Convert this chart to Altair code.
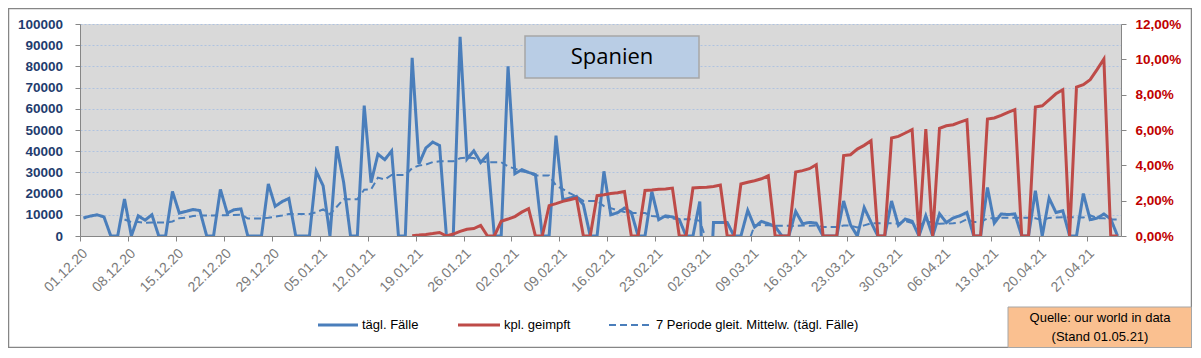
import altair as alt
import pandas as pd

# ---------------- data ----------------
START = "2020-12-01"
N_DAYS = 152

# daily new cases Spain (01.12.20 ... 01.05.21)
CASES = [8500, 9400, 10000, 9000, 0, 0, 17500, 0, 9500, 7500,
         10000, 0, 0, 21000, 10800, 11600, 12500, 12000, 0, 0,
         22000, 10800, 12400, 12800, 0, 0, 0, 24600, 14000, 16200,
         17700, 0, 0, 0, 30500, 23700, 0, 42300, 25200, 0,
         0, 61500, 25200, 38600, 36000, 40100, 0, 0, 84000, 34000,
         41500, 44300, 42700, 0, 0, 94000, 36300, 40200, 34700, 38300,
         0, 0, 80000, 29400, 31300, 30000, 29000, 0, 0, 47300,
         17100, 17900, 18700, 14800, 0, 0, 30500, 10000, 11000, 13200,
         11100, 0, 0, 21000, 7700, 9500, 9000, 7800, 0, 0,
         16300, -60000, 6400, 6400, 6400, 0, 0, 12100, 4200, 6900,
         5800, 4500, 0, 0, 11600, 5800, 6400, 6100, 0, 0,
         0, 16500, 5300, 0, 13400, 6500, 0, 0, 16500, 5000,
         8000, 7000, 0, 9600, 0, 10500, 6300, 8500, 9600, 11100,
         0, 0, 22900, 6100, 10400, 10100, 10400, 0, 0, 21400,
         0, 17900, 11100, 11900, 0, 0, 20000, 7700, 8400, 10400,
         8000, 0]

# fully vaccinated, percent of population
VACC = [None] * 48 + [
         0.02, 0.05, 0.09, 0.14, 0.20, 0, 0.11, 0.26, 0.38, 0.42,
         0.60, 0, 0, 0.83, 0.96, 1.10, 1.35, 1.55, 0, 0,
         1.72, 1.83, 1.96, 2.05, 2.15, 0, 0, 2.28, 2.33, 2.40,
         2.45, 2.52, 0, 0, 2.58, 2.60, 2.64, 2.66, 2.71, 0,
         0, 2.72, 2.74, 2.76, 2.80, 2.88, 0, 0, 2.94, 3.04,
         3.13, 3.24, 3.41, 0, 0, 0, 3.62, 3.70, 3.81, 4.03,
         0, 0, 0, 4.55, 4.60, 4.92, 5.13, 5.39, 0, 0,
         5.55, 5.64, 5.83, 6.02, 0, 6.05, 0, 6.10, 6.24, 6.30,
         6.45, 6.58, 0, 0, 6.62, 6.68, 6.83, 7.00, 7.15, 0,
         0, 7.30, 7.37, 7.71, 8.05, 8.28, 0, 8.43, 8.56, 8.85,
         9.42, 10.02, 0, 0]

LEFT_TICKS = [0, 10000, 20000, 30000, 40000, 50000, 60000, 70000, 80000, 90000, 100000]
RIGHT_TICKS = [0, 2, 4, 6, 8, 10, 12]
SERIES = ["tägl. Fälle", "kpl. geimpft", "7 Periode gleit. Mittelw. (tägl. Fälle)"]
TITLE = ["Spanien"]
SOURCE = ["Quelle: our world in data", "(Stand 01.05.21)"]

# ---------------- styling ----------------
BLUE = "#4A7EBB"
RED = "#BE4B48"
FONT = "Liberation Sans"
W, H = 1041, 212

dates = pd.date_range(START, periods=N_DAYS, freq="D")
df = pd.DataFrame({
    "datum": [d.strftime("%Y-%m-%dT12:00:00") for d in dates],
    "faelle": CASES,
    "geimpft": VACC,
})
tick_dates = [alt.DateTime(year=d.year, month=d.month, date=d.day) for d in dates[::7]]

x_enc = alt.X(
    "datum:T",
    title=None,
    scale=alt.Scale(domain=[alt.DateTime(year=2020, month=12, date=1),
                            alt.DateTime(year=2021, month=5, date=2)], nice=False),
    axis=alt.Axis(values=tick_dates, format="%d.%m.%y", labelAngle=-45,
                  labelAlign="right", labelBaseline="top", labelOffset=0, labelPadding=5,
                  labelColor="#7A7A7A", labelFontSize=14, labelFont=FONT,
                  domainColor="#868686", tickColor="#868686", tickSize=5,
                  grid=False, labelOverlap=False),
)

left = alt.Chart(df).transform_window(
    ma="mean(faelle)", idx="row_number()", frame=[-6, 0],
    sort=[alt.SortField("datum")],
).transform_calculate(
    ma="datum.idx >= 7 ? datum.ma : null"
).transform_fold(
    ["faelle", "ma"], as_=["serie", "wert"]
).transform_filter("isValid(datum.wert)").mark_line(color=BLUE, clip=True).encode(
    x=x_enc,
    y=alt.Y("wert:Q", title=None, scale=alt.Scale(domain=[0, 100000], nice=False),
            axis=alt.Axis(values=LEFT_TICKS, format="d", labelFont=FONT,
                          labelFontSize=13.5, labelFontWeight="bold", labelColor="#1F3C6E",
                          domainColor="#868686", tickColor="#868686", tickSize=5,
                          labelPadding=12.5, grid=True, gridColor="#AFC3E0",
                          gridDash=[2, 2], gridWidth=1)),
    detail="serie:N",
    strokeDash=alt.StrokeDash("serie:N", legend=None,
                              scale=alt.Scale(domain=["faelle", "ma"], range=[[1, 0], [7, 4]])),
    strokeWidth=alt.StrokeWidth("serie:N", legend=None,
                                scale=alt.Scale(domain=["faelle", "ma"], range=[3, 2])),
)

red = alt.Chart(df).transform_filter("isValid(datum.geimpft)").mark_line(
    color=RED, strokeWidth=3, clip=True
).encode(
    x=x_enc,
    y=alt.Y("geimpft:Q", title=None, scale=alt.Scale(domain=[0, 12], nice=False),
            axis=alt.Axis(orient="right", values=RIGHT_TICKS,
                          labelExpr="replace(format(datum.value, '.2f'), '.', ',') + '%'",
                          labelFont=FONT, labelFontSize=13.5, labelFontWeight="bold",
                          labelColor="#C00000", domainColor="#868686", tickColor="#868686",
                          tickSize=5, labelPadding=9, grid=False)),
)

main = alt.layer(left, red).resolve_scale(y="independent")

# ---------------- decorations ----------------
one = pd.DataFrame({"t": [""]})

border = alt.Chart(one).mark_rect(fill="transparent", stroke="#868686", strokeWidth=1.5).encode(
    x=alt.value(-71.5), x2=alt.value(1111.5), y=alt.value(-15.5), y2=alt.value(323.5))

title_box = alt.Chart(one).mark_rect(fill="#B9CDE5", stroke="#A6A6A6", strokeWidth=1.5).encode(
    x=alt.value(445), x2=alt.value(619), y=alt.value(12), y2=alt.value(54))
title_text = alt.Chart(pd.DataFrame({"t": TITLE})).mark_text(
    font="Open Sans", fontSize=22, color="#000000", align="center", baseline="middle"
).encode(x=alt.value(532), y=alt.value(33), text="t:N")

src_box = alt.Chart(one).mark_rect(fill="#FAC090", stroke="#A6A6A6", strokeWidth=1).encode(
    x=alt.value(928), x2=alt.value(1111.5), y=alt.value(283), y2=alt.value(323.5))
src_text1 = alt.Chart(pd.DataFrame({"t": [SOURCE[0]]})).mark_text(
    font=FONT, fontSize=13, color="#000000", align="center", baseline="middle"
).encode(x=alt.value(1020), y=alt.value(294), text="t:N")
src_text2 = alt.Chart(pd.DataFrame({"t": [SOURCE[1]]})).mark_text(
    font=FONT, fontSize=13, color="#000000", align="center", baseline="middle"
).encode(x=alt.value(1020), y=alt.value(313), text="t:N")

LEG_Y = 301
leg_blue = alt.Chart(one).mark_rule(color=BLUE, strokeWidth=3).encode(
    x=alt.value(238), x2=alt.value(278), y=alt.value(LEG_Y))
leg_red = alt.Chart(one).mark_rule(color=RED, strokeWidth=3).encode(
    x=alt.value(378), x2=alt.value(420), y=alt.value(LEG_Y))
leg_ma = alt.Chart(one).mark_rule(color=BLUE, strokeWidth=2, strokeDash=[7, 4]).encode(
    x=alt.value(529), x2=alt.value(569), y=alt.value(LEG_Y))


def leg_text(label, xpos):
    return alt.Chart(pd.DataFrame({"t": [label]})).mark_text(
        font=FONT, fontSize=13, color="#000000", align="left", baseline="middle"
    ).encode(x=alt.value(xpos), y=alt.value(LEG_Y), text="t:N")


chart = alt.layer(
    border, main, title_box, title_text, src_box, src_text1, src_text2,
    leg_blue, leg_red, leg_ma,
    leg_text(SERIES[0], 282), leg_text(SERIES[1], 424), leg_text(SERIES[2], 576),
).properties(
    width=W, height=H,
    padding={"left": 72, "top": 16, "right": 71, "bottom": 112},
    autosize=alt.AutoSizeParams(type="none"),
    background="#FFFFFF",
).configure(font=FONT).configure_view(fill="#D9D9D9", strokeWidth=0)

chart.save("out.html", embed_options={"renderer": "svg", "actions": False})
